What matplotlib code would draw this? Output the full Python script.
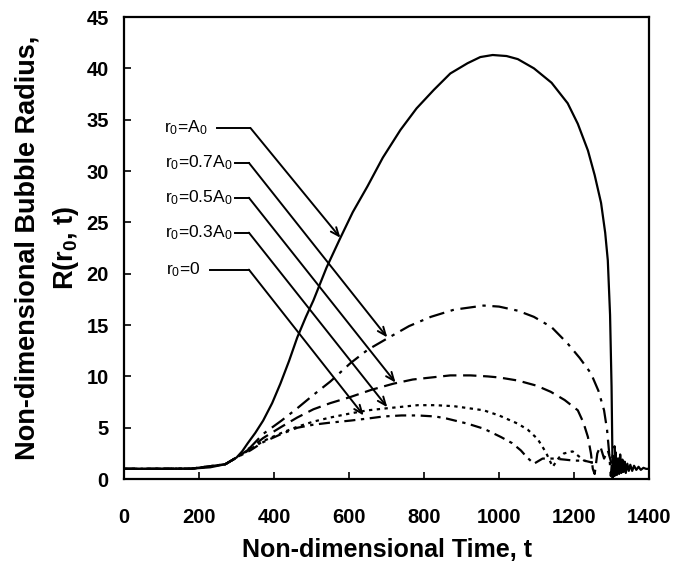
import matplotlib
matplotlib.use("Agg")
import matplotlib.pyplot as plt

plt.rcParams['font.family'] = ['Liberation Sans', 'DejaVu Sans']
plt.rcParams['mathtext.fontset'] = 'custom'
plt.rcParams['mathtext.rm'] = 'Liberation Sans'
plt.rcParams['mathtext.bf'] = 'Liberation Sans:bold'
plt.rcParams['mathtext.default'] = 'regular'

# r0 = A0 (solid)
t_a0 = [0, 100, 180, 230, 270, 300, 315, 330, 350, 371, 395, 417, 440, 462, 485, 505, 540,
        577, 610, 649, 690, 737, 780, 826, 870, 916, 950, 983, 1020, 1050, 1093, 1140,
        1183, 1210, 1237, 1255, 1272, 1283, 1290, 1296, 1300, 1303,
        1305, 1308, 1311, 1314, 1317, 1320, 1323, 1326, 1329, 1332, 1335, 1338, 1342,
        1346, 1350, 1355, 1360, 1366, 1372, 1378, 1385, 1392, 1400]
r_a0 = [1.0, 1.0, 1.02, 1.15, 1.45, 2.1, 2.7, 3.5, 4.5, 5.7, 7.4, 9.3, 11.5, 13.8, 15.8, 17.4, 20.6,
        23.5, 26.0, 28.5, 31.3, 34.0, 36.1, 37.9, 39.5, 40.5, 41.1, 41.3, 41.2, 40.9, 40.0, 38.6,
        36.6, 34.6, 32.0, 29.6, 26.9, 24.0, 21.3, 16.0, 9.0, 0.1,
        2.2, 0.3, 2.6, 0.4, 2.0, 0.5, 2.4, 0.6, 1.9, 0.7, 1.7, 0.6, 1.5,
        0.8, 1.4, 0.8, 1.3, 0.9, 1.2, 0.9, 1.1, 1.0, 1.0]

# r0 = 0.7 A0 (dash-dot)
t_07 = [0, 180, 270, 300, 337, 371, 420, 462, 505, 550, 604, 650, 702, 760, 818, 880, 959,
        1000, 1050, 1093, 1140, 1183, 1215, 1245, 1265, 1280, 1288, 1293, 1298,
        1303, 1308, 1313, 1318, 1325]
r_07 = [1.0, 1.02, 1.45, 2.1, 3.1, 4.4, 5.7, 6.9, 8.2, 9.5, 11.3, 12.6, 13.7, 14.9, 15.8, 16.5, 16.9,
        16.8, 16.4, 15.8, 14.8, 13.2, 11.8, 10.3, 8.6, 6.7, 4.8, 2.8, 0.3,
        2.5, 3.2, 1.0, 2.0, 1.2]

# r0 = 0.5 A0 (dashed)
t_05 = [0, 180, 270, 300, 337, 371, 420, 462, 505, 550, 604, 660, 719, 770, 820, 870, 924,
        970, 1000, 1050, 1100, 1138, 1175, 1210, 1225, 1237, 1245, 1250,
        1255, 1262, 1270, 1280, 1290, 1300]
r_05 = [1.0, 1.02, 1.45, 2.1, 3.0, 4.0, 5.1, 6.0, 6.8, 7.4, 8.0, 8.7, 9.3, 9.7, 9.9, 10.1, 10.1,
        10.0, 9.9, 9.6, 9.1, 8.5, 7.7, 6.7, 5.5, 4.1, 2.5, 1.0,
        0.5, 2.5, 3.2, 2.0, 2.8, 1.5]

# r0 = 0.3 A0 (dotted)
t_03 = [0, 180, 270, 300, 337, 371, 420, 462, 505, 550, 604, 650, 702, 783, 830, 880, 920,
        959, 1000, 1050, 1077, 1103, 1125, 1143, 1160, 1173, 1196, 1210, 1227, 1250]
r_03 = [1.0, 1.02, 1.45, 2.1, 2.9, 3.7, 4.5, 5.1, 5.6, 6.0, 6.4, 6.7, 6.9, 7.2, 7.2, 7.1, 6.9,
        6.7, 6.2, 5.4, 4.8, 3.9, 2.6, 1.2, 2.1, 2.5, 2.7, 2.3, 1.8, 1.6]

# r0 = 0 (dash-dot-dot)
t_00 = [0, 180, 270, 300, 337, 371, 420, 462, 505, 550, 604, 650, 692, 740, 783, 830, 860,
        916, 960, 1005, 1035, 1058, 1075, 1093, 1116, 1146, 1175, 1200, 1227, 1250]
r_00 = [1.0, 1.02, 1.45, 2.1, 2.8, 3.6, 4.4, 5.0, 5.3, 5.5, 5.7, 5.9, 6.1, 6.2, 6.2, 6.1, 5.9,
        5.4, 4.9, 4.1, 3.5, 2.8, 2.1, 1.5, 2.0, 2.0, 1.9, 1.8, 1.8, 1.6]

labels = ['r$_0$=A$_0$', 'r$_0$=0.7A$_0$', 'r$_0$=0.5A$_0$', 'r$_0$=0.3A$_0$', 'r$_0$=0']
label_x = [222, 289, 289, 289, 203]
label_y = [34.2, 30.8, 27.4, 24.0, 20.4]
line_start = [248, 297, 297, 297, 230]
bend_x = [337, 333, 333, 333, 333]
tip_x = [577, 702, 724, 702, 639]
tip_y = [23.5, 13.8, 9.4, 7.0, 6.2]

fig = plt.figure(figsize=(6.74, 5.67), dpi=100)
ax = fig.add_axes([0.184, 0.155, 0.779, 0.815])

lw = 1.6
ax.plot(t_a0, r_a0, color='black', lw=lw, ls='-')
ax.plot(t_07, r_07, color='black', lw=lw, ls=(0, (7, 3, 1.5, 3)))
ax.plot(t_05, r_05, color='black', lw=lw, ls=(0, (6, 3)))
ax.plot(t_03, r_03, color='black', lw=lw, ls=(0, (1.5, 2)))
ax.plot(t_00, r_00, color='black', lw=lw, ls=(0, (5, 2.5, 1.5, 2.5)))

for i in range(0, len(labels)):
    ax.text(label_x[i], label_y[i], labels[i], ha='right', va='center', fontsize=12.5)
    ax.plot([line_start[i], bend_x[i]], [label_y[i], label_y[i]], color='black', lw=1.4)
    ax.annotate('', xy=(tip_x[i], tip_y[i]), xytext=(bend_x[i], label_y[i]),
                arrowprops=dict(arrowstyle='->,head_length=0.6,head_width=0.25',
                                color='black', lw=1.4, shrinkA=0, shrinkB=0))

ax.set_xlim(0, 1400)
ax.set_ylim(0, 45)
ax.set_xticks(range(0, 1401, 200))
ax.set_yticks(range(0, 46, 5))
ax.tick_params(direction='in', length=5, width=1.2, labelsize=14.5)
ax.tick_params(axis='x', pad=21)
ax.tick_params(axis='y', pad=11)
for lab in ax.get_xticklabels() + ax.get_yticklabels():
    lab.set_fontweight('bold')
for s in ax.spines.values():
    s.set_linewidth(1.6)

ax.set_xlabel('Non-dimensional Time, t', fontsize=18, fontweight='bold', labelpad=8)
ax.set_ylabel('Non-dimensional Bubble Radius,\nR(r$_\\mathbf{0}$, t)', fontsize=19.5,
              fontweight='bold', labelpad=4, linespacing=1.45)

fig.savefig('out.png', dpi=100)
